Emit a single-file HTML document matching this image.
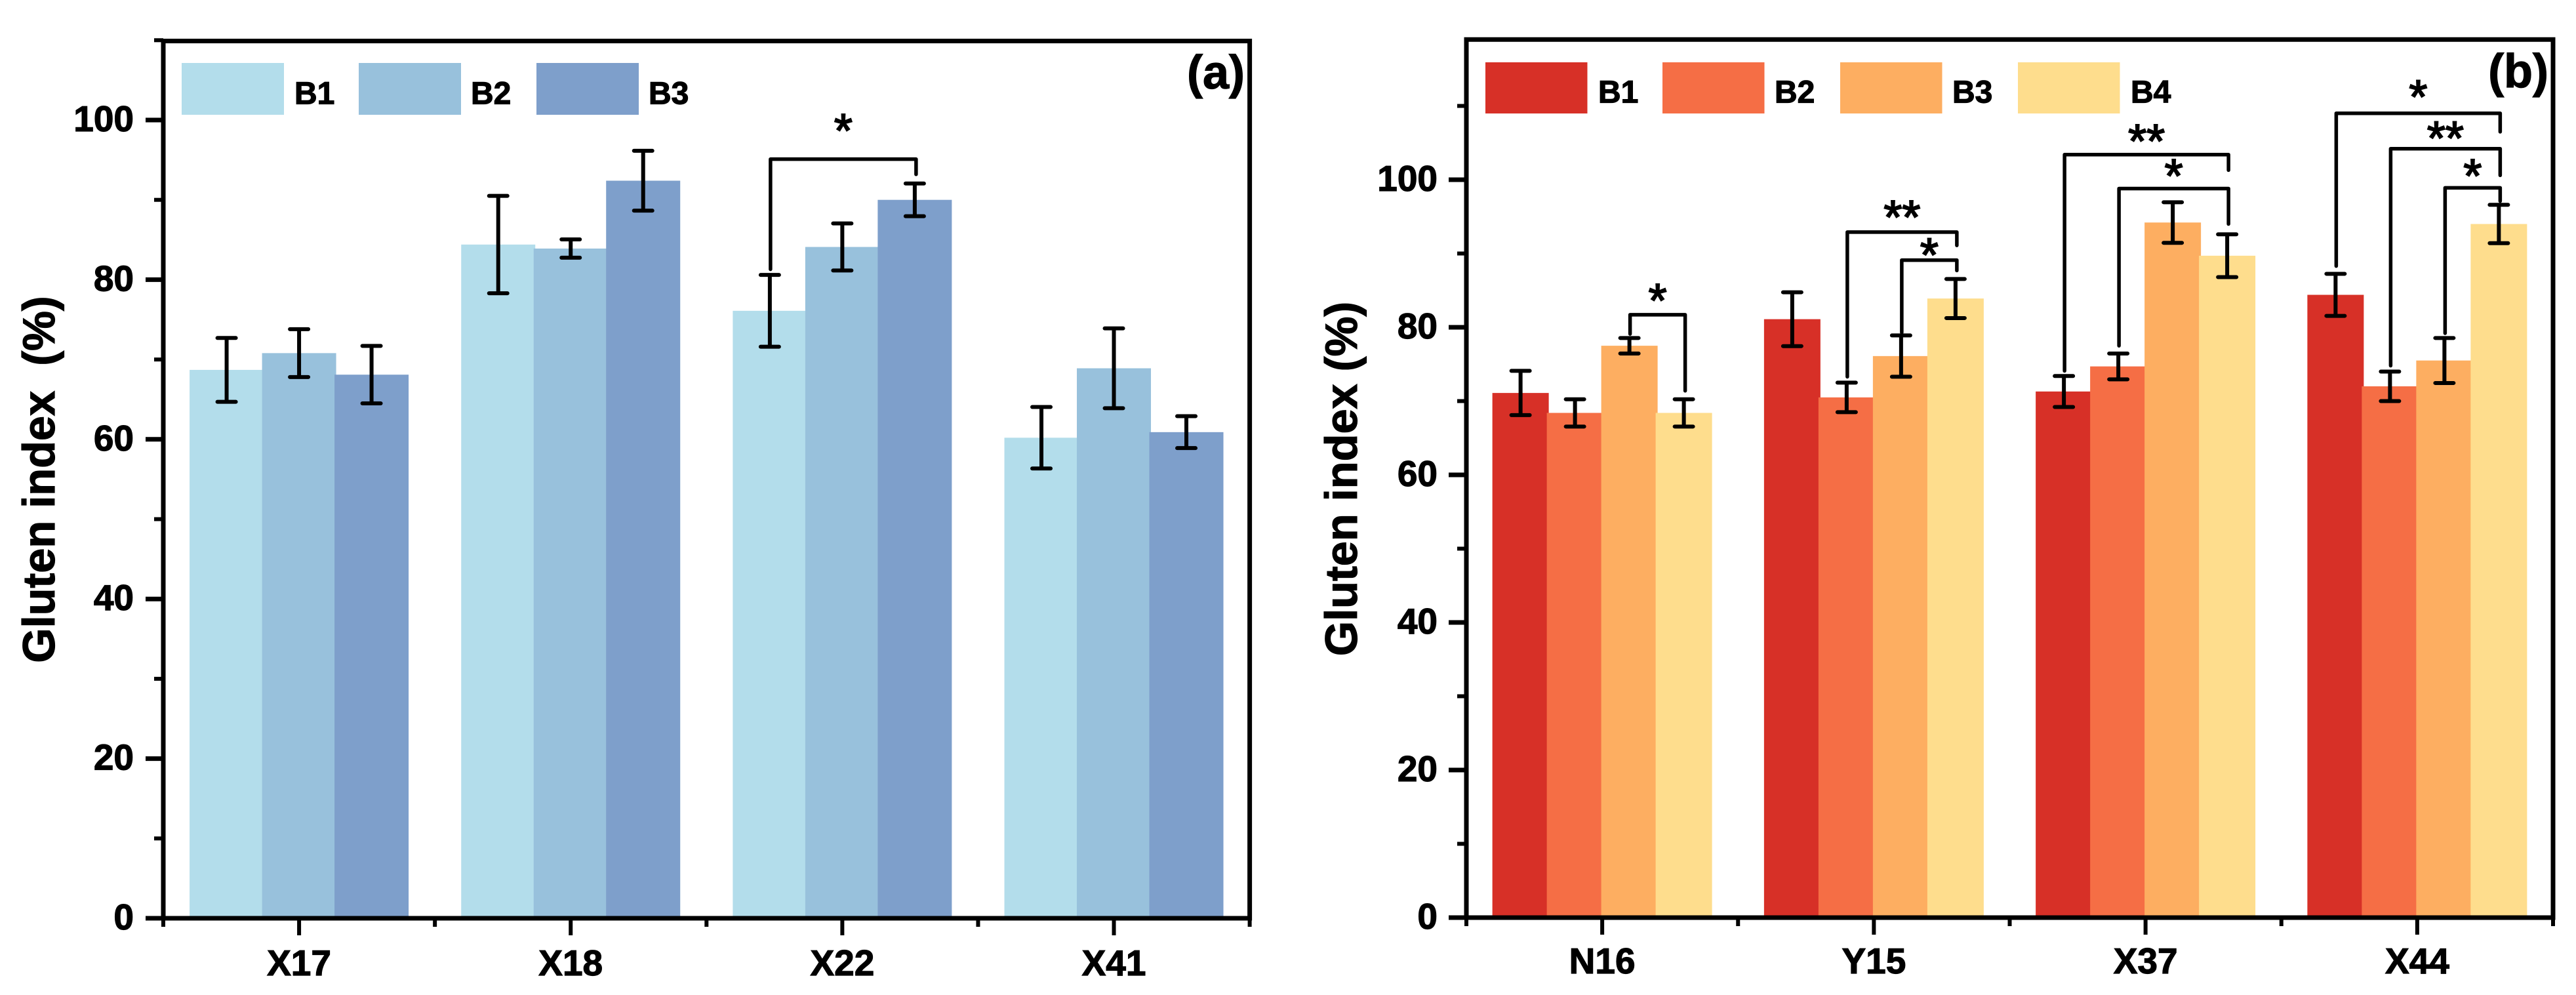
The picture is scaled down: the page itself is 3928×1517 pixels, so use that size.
<!DOCTYPE html>
<html lang="en">
<head>
<meta charset="utf-8">
<title>Gluten index by sample</title>
<style>
html,body{margin:0;padding:0;background:#fff;}
svg{display:block;}
text{font-family:"Liberation Sans",Arial,sans-serif;font-weight:700;fill:#000;stroke:#000;stroke-width:1.2px;white-space:pre;}
</style>
</head>
<body>
<svg id="figure" xmlns="http://www.w3.org/2000/svg" width="3928" height="1517" viewBox="0 0 3928 1517">
<rect x="0" y="0" width="3928" height="1517" fill="#ffffff"/>
</svg>
<script>
// ---- Panel (a) data ----
const categoriesA = ['X17', 'X18', 'X22', 'X41'];
const seriesNamesA = ['B1', 'B2', 'B3'];
const b1ValuesA = [68.7, 84.4, 76.1, 60.2];
const b2ValuesA = [70.8, 83.9, 84.1, 68.9];
const b3ValuesA = [68.1, 92.4, 90.0, 60.9];
const b1ErrorsA = [4.0, 6.1, 4.5, 3.85];
const b2ErrorsA = [3.0, 1.15, 2.95, 5.0];
const b3ErrorsA = [3.6, 3.75, 2.05, 2.0];
const majorTicksA = [0, 20, 40, 60, 80, 100];
const minorTicksA = [10, 30, 50, 70, 90, 110];
const yMaxA = 109.9;
const bracketsA = [
  {group: 2, from: 0, to: 2, leftFoot: 81.3, top: 95.1, rightFoot: 93.2, label: '*', labelValue: 100.4}
];

// ---- Panel (b) data ----
const categoriesB = ['N16', 'Y15', 'X37', 'X44'];
const seriesNamesB = ['B1', 'B2', 'B3', 'B4'];
const b1ValuesB = [71.1, 81.1, 71.3, 84.4];
const b2ValuesB = [68.4, 70.5, 74.7, 72.0];
const b3ValuesB = [77.5, 76.1, 94.2, 75.5];
const b4ValuesB = [68.4, 83.9, 89.7, 94.0];
const b1ErrorsB = [3.0, 3.65, 2.1, 2.85];
const b2ErrorsB = [1.85, 2.0, 1.75, 2.0];
const b3ErrorsB = [1.05, 2.8, 2.75, 3.05];
const b4ErrorsB = [1.85, 2.65, 2.9, 2.6];
const majorTicksB = [0, 20, 40, 60, 80, 100];
const minorTicksB = [10, 30, 50, 70, 90, 110];
const yMaxB = 119;
const bracketsB = [
  {group: 0, from: 2, to: 3, leftFoot: 79.1, top: 81.7, rightFoot: 71.4, label: '*', labelValue: 85.5},
  {group: 1, from: 1, to: 3, leftFoot: 73.3, top: 92.9, rightFoot: 91.1, label: '**', labelValue: 96.8},
  {group: 1, from: 2, to: 3, leftFoot: 79.3, top: 89.1, rightFoot: 87.7, label: '*', labelValue: 91.7},
  {group: 2, from: 0, to: 3, leftFoot: 74.1, top: 103.4, rightFoot: 101.3, label: '**', labelValue: 107.1},
  {group: 2, from: 1, to: 3, leftFoot: 77.5, top: 98.8, rightFoot: 94.0, label: '*', labelValue: 102.4},
  {group: 3, from: 0, to: 3, leftFoot: 88.3, top: 109.0, rightFoot: 106.5, label: '*', labelValue: 113.1},
  {group: 3, from: 1, to: 3, leftFoot: 74.8, top: 104.2, rightFoot: 100.6, label: '**', labelValue: 107.5},
  {group: 3, from: 2, to: 3, leftFoot: 79.2, top: 98.9, rightFoot: 97.1, label: '*', labelValue: 102.4}
];

const SVG_NS = 'http://www.w3.org/2000/svg';
const figure = document.getElementById('figure');

function make(tag, props, parent) {
  const node = document.createElementNS(SVG_NS, tag);
  for (const key in props) node.setAttribute(key, props[key]);
  (parent || figure).appendChild(node);
  return node;
}

function drawPanel(cfg) {
  const panel = make('g', {});
  
  

  const yOf = v => cfg.y0 - v * cfg.yUnit;
  const groupStep = (cfg.right - cfg.left) / cfg.categories.length;
  const centerOf = i => cfg.left + (i + 0.5) * groupStep;
  const barCenter = (g, s) => centerOf(g) + (s - (cfg.series.length - 1) / 2) * cfg.barStep;
  const yTop = yOf(cfg.yMax);

  // bars
  cfg.values.forEach((vals, s) => {
    vals.forEach((v, g) => {
      const bar = make('rect', {
        x: barCenter(g, s) - cfg.barWidth / 2,
        y: yOf(v),
        width: cfg.barWidth,
        height: cfg.y0 - yOf(v),
        fill: cfg.colors[s]
      }, panel);
      
      
    });
  });

  // error bars
  cfg.errors.forEach((errs, s) => {
    errs.forEach((e, g) => {
      const cx = barCenter(g, s);
      const v = cfg.values[s][g];
      const hi = yOf(v + e);
      const lo = yOf(v - e);
      const d = 'M' + (cx - 14) + ' ' + hi + 'H' + (cx + 14) + 'M' + cx + ' ' + hi + 'V' + lo + 'M' + (cx - 14) + ' ' + lo + 'H' + (cx + 14);
      const err = make('path', {d: d, fill: 'none', stroke: '#000', 'stroke-width': 6, 'stroke-linecap': 'round'}, panel);
      
      
    });
  });

  // frame
  const frame = make('rect', {x: cfg.left, y: yTop, width: cfg.right - cfg.left, height: cfg.y0 - yTop, fill: 'none', stroke: '#000', 'stroke-width': 7}, panel);
  
  

  // y ticks
  cfg.majorTicks.forEach(t => {
    const y = yOf(t);
    const tick = make('line', {x1: cfg.left - 27, x2: cfg.left, y1: y, y2: y, stroke: '#000', 'stroke-width': 7}, panel);
    
    
    const label = make('text', {x: cfg.yLabelRight, y: y + 17, 'text-anchor': 'end', 'font-size': 55}, panel);
    label.textContent = String(t);
    
    
  });
  cfg.minorTicks.forEach(t => {
    const y = yOf(t);
    const tick = make('line', {x1: cfg.left - 14, x2: cfg.left, y1: y, y2: y, stroke: '#000', 'stroke-width': 6}, panel);
    
    
  });

  // x ticks
  cfg.categories.forEach((c, i) => {
    const x = centerOf(i);
    const tick = make('line', {x1: x, x2: x, y1: cfg.y0, y2: cfg.y0 + 26, stroke: '#000', 'stroke-width': 6}, panel);
    
    
    const label = make('text', {x: x, y: cfg.xLabelBaseline, 'text-anchor': 'middle', 'font-size': 55}, panel);
    label.textContent = c;
    
    
  });
  for (let i = 0; i <= cfg.categories.length; i++) {
    const x = cfg.left + i * groupStep;
    const tick = make('line', {x1: x, x2: x, y1: cfg.y0, y2: cfg.y0 + 13, stroke: '#000', 'stroke-width': 6}, panel);
    
    
  }
  const axisExtension = make('line', {x1: cfg.left - 27, x2: cfg.right + 3, y1: cfg.y0, y2: cfg.y0, stroke: '#000', 'stroke-width': 7}, panel);
  
  

  // y axis title
  const title = make('text', {
    transform: 'translate(' + cfg.titleX + ' ' + cfg.titleY + ') rotate(-90)',
    'text-anchor': 'middle',
    'font-size': 68.5
  }, panel);
  title.textContent = cfg.title;
  
  

  // panel tag
  const tag = make('text', {x: cfg.tagX, y: cfg.tagY, 'text-anchor': 'end', 'font-size': 72}, panel);
  tag.textContent = cfg.tag;
  
  

  // legend
  cfg.series.forEach((s, i) => {
    const swatch = make('rect', {
      x: cfg.legendX[i],
      y: cfg.legendTop,
      width: cfg.legendW,
      height: cfg.legendH,
      fill: cfg.colors[i]
    }, panel);
    
    
    const label = make('text', {x: cfg.legendTextX[i], y: cfg.legendBaseline, 'font-size': 48}, panel);
    label.textContent = s;
    
    
  });

  // significance brackets
  cfg.brackets.forEach(b => {
    const xl = barCenter(b.group, b.from) + 1;
    const xr = barCenter(b.group, b.to) + 2;
    const pts = xl + ',' + yOf(b.leftFoot) + ' ' + xl + ',' + yOf(b.top) + ' ' + xr + ',' + yOf(b.top) + ' ' + xr + ',' + yOf(b.rightFoot);
    const line = make('polyline', {points: pts, fill: 'none', stroke: '#000', 'stroke-width': 5.5, 'stroke-linejoin': 'round', 'stroke-linecap': 'round'}, panel);
    
    
    const star = make('text', {
      x: (xl + xr) / 2,
      y: yOf(b.labelValue) + 46,
      'text-anchor': 'middle',
      'font-size': 72,
      style: 'font-weight:400;stroke-width:2px'
    }, panel);
    star.textContent = b.label;
    
    
  });
}

drawPanel({
  id: 'a',
  categories: categoriesA,
  series: seriesNamesA,
  values: [b1ValuesA, b2ValuesA, b3ValuesA],
  errors: [b1ErrorsA, b2ErrorsA, b3ErrorsA],
  majorTicks: majorTicksA,
  minorTicks: minorTicksA,
  yMax: yMaxA,
  brackets: bracketsA,
  colors: ['#B3DDEB', '#98C1DC', '#7E9FCB'],
  left: 249, right: 1905.6, y0: 1400, yUnit: 12.17,
  barWidth: 113, barStep: 110.5,
  yLabelRight: 204, xLabelBaseline: 1487,
  title: 'Gluten index  (%)', titleX: 83, titleY: 731,
  tag: '(a)', tagX: 1898, tagY: 135,
  legendX: [277, 547, 818], legendW: 156, legendTop: 96, legendH: 79,
  legendTextX: [449, 718, 989], legendBaseline: 158.5
});

drawPanel({
  id: 'b',
  categories: categoriesB,
  series: seriesNamesB,
  values: [b1ValuesB, b2ValuesB, b3ValuesB, b4ValuesB],
  errors: [b1ErrorsB, b2ErrorsB, b3ErrorsB, b4ErrorsB],
  majorTicks: majorTicksB,
  minorTicks: minorTicksB,
  yMax: yMaxB,
  brackets: bracketsB,
  colors: ['#D73027', '#F56E45', '#FDAE61', '#FEDD8D'],
  left: 2236, right: 3893, y0: 1399, yUnit: 11.25,
  barWidth: 86, barStep: 83,
  yLabelRight: 2192, xLabelBaseline: 1484,
  title: 'Gluten index (%)', titleX: 2069, titleY: 730,
  tag: '(b)', tagX: 3886, tagY: 133,
  legendX: [2265, 2535, 2806, 3077], legendW: 155.5, legendTop: 95, legendH: 78,
  legendTextX: [2437, 2706, 2977, 3249], legendBaseline: 156.5
});
</script>
</body>
</html>
